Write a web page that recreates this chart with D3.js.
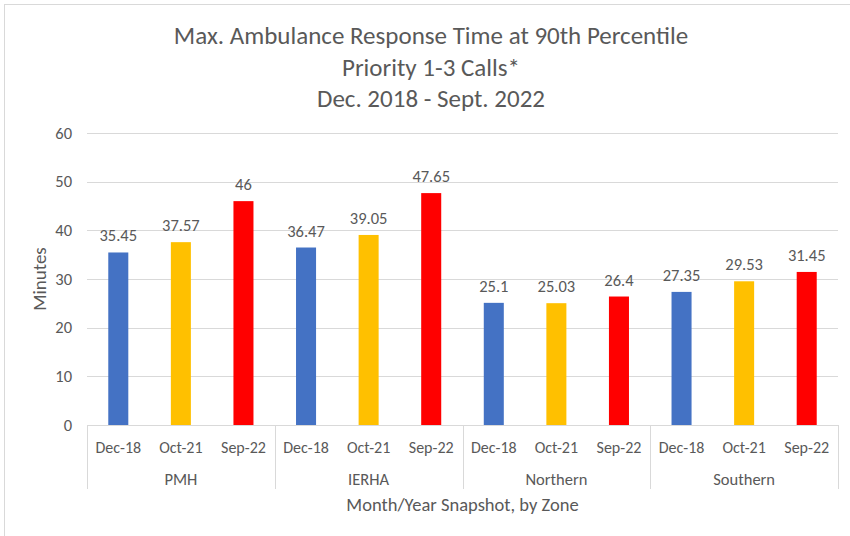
<!DOCTYPE html>
<html>
<head>
<script src="https://d3js.org/d3.v7.min.js"></script>
<style type="text/css">
body { margin:0; background:#fff; }
svg text { font-family: Calibri, Carlito, Lato, sans-serif; fill:#595959; }
.grid line { stroke:#d9d9d9; }
</style>
</head>
<body>
<svg id="chart"></svg>
<script>
// data
var zones = ["PMH", "IERHA", "Northern", "Southern"];
var months = ["Dec-18", "Oct-21", "Sep-22"];
var monthColors = ["#4472c4", "#ffc000", "#ff0000"];
var values = [
  [35.45, 37.57, 46],
  [36.47, 39.05, 47.65],
  [25.1, 25.03, 26.4],
  [27.35, 29.53, 31.45]
];
var yTicks = [0, 10, 20, 30, 40, 50, 60];
var titleLines = ["Max. Ambulance Response Time at 90th Percentile", "Priority 1-3 Calls*", "Dec. 2018 - Sept. 2022"];

var width = 850, height = 536;
var svg = d3.select("#chart").attr("width", width).attr("height", height);

// outer chart border (only top + left show)
svg.append("rect")
  .attr("x", 4.5).attr("y", 4.5)
  .attr("width", width + 10).attr("height", height + 10)
  .attr("fill", "none").attr("stroke", "#d9d9d9");

var plotL = 87, plotR = 838, plotT = 133, plotB = 425;

var y = d3.scaleLinear().domain([0, 60]).range([plotB, plotT]);
var x0 = d3.scaleBand().domain(zones).range([plotL, plotR]);
var x1 = d3.scaleBand().domain(months).range([0, x0.bandwidth()]);
var barW = x1.bandwidth() * 0.32;
var color = d3.scaleOrdinal().domain(months).range(monthColors);

// title
svg.append("text")
  .attr("text-anchor", "middle")
  .style("font-size", "25px")
  .selectAll("tspan")
  .data(titleLines)
  .enter().append("tspan")
    .attr("x", 431)
    .attr("y", function(d, i) { return 44 + i * 31.5; })
    .text(function(d) { return d; });

// gridlines
svg.append("g").attr("class", "grid")
  .selectAll("line")
  .data(yTicks.filter(function(d) { return d > 0; }))
  .enter().append("line")
    .attr("x1", plotL).attr("x2", plotR)
    .attr("y1", function(d) { return Math.round(y(d)) + 0.5; })
    .attr("y2", function(d) { return Math.round(y(d)) + 0.5; });

// y axis labels
svg.append("g")
  .selectAll("text")
  .data(yTicks)
  .enter().append("text")
    .attr("x", 72)
    .attr("y", function(d) { return y(d); })
    .attr("dy", "0.35em")
    .attr("text-anchor", "end")
    .style("font-size", "16.5px")
    .text(function(d) { return d; });

svg.append("text")
  .attr("transform", "translate(46," + ((plotT + plotB) / 2) + ")rotate(-90)")
  .attr("text-anchor", "middle")
  .style("font-size", "19px")
  .text("Minutes");

// bars
var groups = svg.selectAll(".zone")
  .data(zones)
  .enter().append("g")
    .attr("class", "zone")
    .attr("transform", function(d) { return "translate(" + x0(d) + ",0)"; });

groups.selectAll("rect")
  .data(function(d, i) { return values[i].map(function(v, j) { return {m: months[j], v: v}; }); })
  .enter().append("rect")
    .attr("x", function(d) { return x1(d.m) + (x1.bandwidth() - barW) / 2; })
    .attr("width", barW)
    .attr("y", function(d) { return y(d.v); })
    .attr("height", function(d) { return plotB - y(d.v); })
    .attr("fill", function(d) { return color(d.m); });

groups.selectAll(".val")
  .data(function(d, i) { return values[i].map(function(v, j) { return {m: months[j], v: v}; }); })
  .enter().append("text")
    .attr("class", "val")
    .attr("x", function(d) { return x1(d.m) + x1.bandwidth() / 2; })
    .attr("y", function(d) { return y(d.v) - 11; })
    .attr("text-anchor", "middle")
    .style("font-size", "16.5px")
    .text(function(d) { return d.v; });

// category axis
svg.append("line")
  .attr("x1", plotL).attr("x2", plotR)
  .attr("y1", plotB + 0.5).attr("y2", plotB + 0.5)
  .attr("stroke", "#d9d9d9");

svg.selectAll(".sep")
  .data(zones.map(function(d) { return x0(d); }).concat([plotR]))
  .enter().append("line")
    .attr("class", "sep")
    .attr("x1", function(d) { return Math.round(d) + 0.5; })
    .attr("x2", function(d) { return Math.round(d) + 0.5; })
    .attr("y1", plotB).attr("y2", 489)
    .attr("stroke", "#d9d9d9");

groups.selectAll(".tick")
  .data(months)
  .enter().append("text")
    .attr("class", "tick")
    .attr("x", function(d) { return x1(d) + x1.bandwidth() / 2; })
    .attr("y", 453)
    .attr("text-anchor", "middle")
    .style("font-size", "16px")
    .text(function(d) { return d; });

groups.append("text")
  .attr("x", x0.bandwidth() / 2)
  .attr("y", 485)
  .attr("text-anchor", "middle")
  .style("font-size", "16.5px")
  .text(function(d) { return d; });

svg.append("text")
  .attr("x", (plotL + plotR) / 2)
  .attr("y", 511)
  .attr("text-anchor", "middle")
  .style("font-size", "18.5px")
  .text("Month/Year Snapshot, by Zone");
</script>
</body>
</html>
